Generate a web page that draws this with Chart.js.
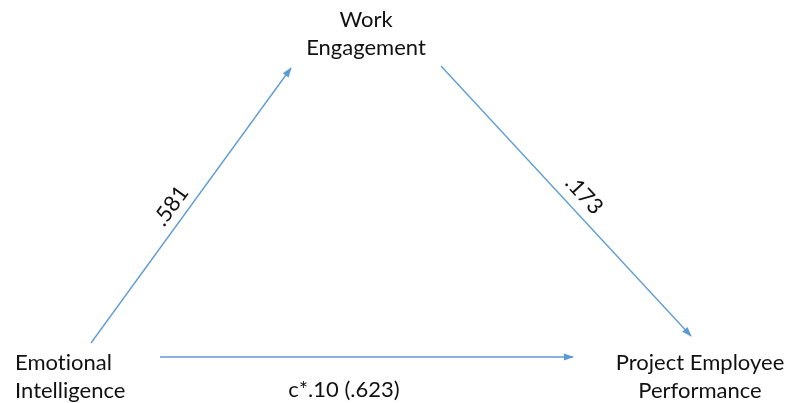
<!DOCTYPE html>
<html>
<head>
<meta charset="utf-8">
<script src="https://cdn.jsdelivr.net/npm/chart.js@4"></script>
<style>
html,body{margin:0;padding:0;background:#fff;}
#wrap{width:786px;height:403px;position:relative;}
</style>
</head>
<body>
<div id="wrap"><canvas id="c"></canvas></div>
<script>
// Node labels (lines of text)
const nodeNames = [["Emotional", "Intelligence"], ["Work", "Engagement"], ["Project Employee", "Performance"]];
// Paths: from node -> to node, coefficient labels
const pathFrom = [0, 1, 0];
const pathTo = [1, 2, 2];
const pathLabels = [".581", ".173", "c*.10 (.623)"];

// Layout (diagram coordinates, 0..786 x 0..403, y downward)
const nodeX = [15, 366, 700];
const nodeY = [363, 20, 363];
const nodeAlign = ["left", "center", "center"];
const pathStartX = [91, 441, 160];
const pathStartY = [343, 66, 357];
const pathEndX = [291, 691, 573];
const pathEndY = [68, 336, 357];
const labelX = [171, 584, 344];
const labelY = [206, 195, 390];
const labelRotate = [true, true, false];

const lineColor = '#5B9BD5';
const FONT = '22px Lato, Carlito, "Open Sans", sans-serif';

const datasets = pathFrom.map((f, i) => ({
  label: nodeNames[f].join(' ') + ' → ' + nodeNames[pathTo[i]].join(' '),
  data: [{x: pathStartX[i], y: pathStartY[i]}, {x: pathEndX[i], y: pathEndY[i]}],
  showLine: true,
  borderColor: lineColor,
  borderWidth: 1.3,
  pointRadius: 0,
  fill: false
}));

const diagramPlugin = {
  id: 'diagram',
  afterDatasetsDraw(chart) {
    const ctx = chart.ctx;
    const xs = chart.scales.x, ys = chart.scales.y;
    chart.data.datasets.forEach((ds, i) => {
      const meta = chart.getDatasetMeta(i);
      const p0 = meta.data[0], p1 = meta.data[1];
      const ang = Math.atan2(p1.y - p0.y, p1.x - p0.x);
      const L = 9, W = 3.6;
      ctx.save();
      ctx.translate(p1.x, p1.y);
      ctx.rotate(ang);
      ctx.beginPath();
      ctx.moveTo(1, 0);
      ctx.lineTo(-L, -W);
      ctx.lineTo(-L, W);
      ctx.closePath();
      ctx.fillStyle = lineColor;
      ctx.fill();
      ctx.restore();
    });
    ctx.save();
    ctx.fillStyle = '#111';
    ctx.font = FONT;
    if ('textRendering' in ctx) ctx.textRendering = 'optimizeSpeed';
    if ('letterSpacing' in ctx) ctx.letterSpacing = '0.01px';
    ctx.textBaseline = 'middle';
    nodeNames.forEach((lines, n) => {
      ctx.textAlign = nodeAlign[n];
      lines.forEach((t, k) => {
        ctx.fillText(t, xs.getPixelForValue(nodeX[n]), ys.getPixelForValue(nodeY[n] + k * 28));
      });
    });
    pathLabels.forEach((t, i) => {
      const px = xs.getPixelForValue(labelX[i]), py = ys.getPixelForValue(labelY[i]);
      ctx.save();
      ctx.translate(px, py);
      if (labelRotate[i]) {
        const meta = chart.getDatasetMeta(i);
        const p0 = meta.data[0], p1 = meta.data[1];
        ctx.rotate(Math.atan2(p1.y - p0.y, p1.x - p0.x));
      }
      ctx.textAlign = 'center';
      ctx.fillText(t, 0, 0);
      ctx.restore();
    });
    ctx.restore();
  }
};

new Chart(document.getElementById('c'), {
  type: 'scatter',
  data: { datasets },
  options: {
    responsive: true,
    maintainAspectRatio: false,
    animation: false,
    layout: { padding: 0 },
    plugins: { legend: { display: false }, tooltip: { enabled: false } },
    scales: {
      x: { type: 'linear', min: 0, max: 786, display: false },
      y: { type: 'linear', min: 0, max: 403, reverse: true, display: false }
    }
  },
  plugins: [diagramPlugin]
});
</script>
</body>
</html>
